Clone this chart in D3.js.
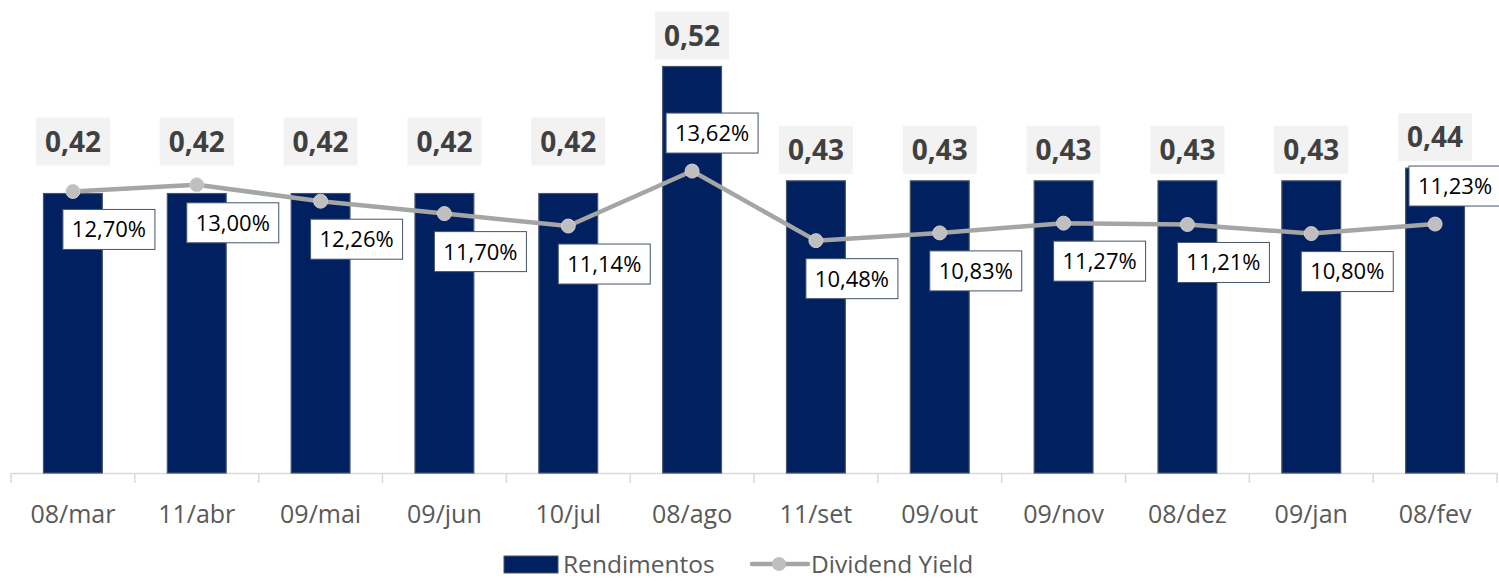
<!DOCTYPE html>
<html>
<head>
<meta charset="utf-8">
<script src="https://d3js.org/d3.v7.min.js"></script>
<style>
  * { margin: 0; padding: 0; }
  body { background: #fff; width: 1499px; height: 581px; overflow: hidden; }
  svg { display: block; font-family: 'Open Sans', 'Noto Sans', sans-serif; }
</style>
</head>
<body>
<div id="chart"></div>
<script>
// dados
var datas = ["08/mar", "11/abr", "09/mai", "09/jun", "10/jul", "08/ago", "11/set", "09/out", "09/nov", "08/dez", "09/jan", "08/fev"];
var rendimentos = [0.42, 0.42, 0.42, 0.42, 0.42, 0.52, 0.43, 0.43, 0.43, 0.43, 0.43, 0.44];
var dividendYield = [12.70, 13.00, 12.26, 11.70, 11.14, 13.62, 10.48, 10.83, 11.27, 11.21, 10.80, 11.23];
var series = ["Rendimentos", "Dividend Yield"];

const w = 1499;
const h = 581;
const padL = 11, padR = 1497, base = 473, plotTop = 3;

const fmt = (v, d) => v.toFixed(d).replace(".", ",");

const svg = d3.select("#chart").append("svg")
  .attr("width", w)
  .attr("height", h);

const x = d3.scaleBand()
  .domain(datas)
  .range([padL, padR])
  .padding(0);

const y = d3.scaleLinear()
  .domain([0.2, 0.57])
  .range([base, plotTop]);

const y2 = d3.scaleLinear()
  .domain([0, 21.2])
  .range([base, plotTop]);

const barW = x.bandwidth() * 0.475;
const cx = d => x(d) + x.bandwidth() / 2;

// eixo x
const xAxis = d3.axisBottom(x).tickSize(0).tickPadding(32);
const gx = svg.append("g")
  .attr("transform", "translate(0," + base + ")")
  .call(xAxis);
gx.select(".domain").attr("stroke", "#d9d9d9").attr("stroke-width", 1.5);
gx.selectAll("text")
  .attr("fill", "#595959")
  .style("font-size", "25px")
  .style("font-family", "'Open Sans', sans-serif");

// tracinhos entre categorias
svg.append("g").selectAll("line")
  .data(datas.concat(["__end"]))
  .enter().append("line")
  .attr("x1", (d, i) => padL + i * x.step())
  .attr("x2", (d, i) => padL + i * x.step())
  .attr("y1", base)
  .attr("y2", base + 10)
  .attr("stroke", "#d9d9d9")
  .attr("stroke-width", 1.5);

// barras
svg.append("g").selectAll("rect")
  .data(rendimentos)
  .enter().append("rect")
  .attr("x", (d, i) => cx(datas[i]) - barW / 2)
  .attr("y", d => y(d))
  .attr("width", barW)
  .attr("height", d => base - y(d))
  .attr("fill", "#002060")
  .attr("stroke", "#44546a")
  .attr("stroke-width", 1.2);

// rotulos das barras (sobe quando a linha passa perto do topo)
const barLbl = svg.append("g").selectAll("g")
  .data(rendimentos)
  .enter().append("g")
  .attr("transform", (d, i) => {
    const topY = y(d);
    const near = Math.abs(y2(dividendYield[i]) - topY) < 40;
    const bottom = near ? topY - 28 : topY - 7;
    return "translate(" + cx(datas[i]) + "," + (bottom - 24) + ")";
  });
barLbl.append("rect")
  .attr("x", -37).attr("y", -24)
  .attr("width", 74).attr("height", 48)
  .attr("fill", "#f2f2f2");
barLbl.append("text")
  .attr("text-anchor", "middle")
  .attr("dy", "0.36em")
  .attr("fill", "#404040")
  .style("font-size", "28px")
  .style("font-weight", "bold")
  .text(d => fmt(d, 2));

// linha
const line = d3.line()
  .x((d, i) => cx(datas[i]))
  .y(d => y2(d));

svg.append("path")
  .datum(dividendYield)
  .attr("d", line)
  .attr("fill", "none")
  .attr("stroke", "#a5a5a5")
  .attr("stroke-width", 4.5)
  .attr("stroke-linejoin", "round");

svg.append("g").selectAll("circle")
  .data(dividendYield)
  .enter().append("circle")
  .attr("cx", (d, i) => cx(datas[i]))
  .attr("cy", d => y2(d))
  .attr("r", 7)
  .attr("fill", "#bfbfbf")
  .attr("stroke", "#d0d0d0")
  .attr("stroke-width", 1);

// rotulos da linha
const maxDY = d3.max(dividendYield);
const dyLbl = svg.append("g").selectAll("g")
  .data(dividendYield)
  .enter().append("g")
  .attr("transform", (d, i) => {
    const above = d === maxDY || i === dividendYield.length - 1;
    let lx = cx(datas[i]) + (above ? 20 : 36);
    lx = Math.min(lx, w - 44);
    const ly = y2(d) + (above ? -38 : 38);
    return "translate(" + lx + "," + ly + ")";
  });
dyLbl.append("rect")
  .attr("x", -46).attr("y", -20)
  .attr("width", 92).attr("height", 40)
  .attr("fill", "#fff")
  .attr("stroke", "#44546a")
  .attr("stroke-width", 1);
dyLbl.append("text")
  .attr("text-anchor", "middle")
  .attr("dy", "0.36em")
  .attr("fill", "#000")
  .style("font-size", "22px")
  .text(d => fmt(d, 2) + "%");

// legenda
const leg = svg.append("g").attr("transform", "translate(0,564)");
leg.append("rect")
  .attr("x", 504).attr("y", -8)
  .attr("width", 54).attr("height", 17)
  .attr("fill", "#002060")
  .attr("stroke", "#44546a");
leg.append("text")
  .attr("x", 563).attr("dy", "0.36em")
  .attr("fill", "#595959")
  .style("font-size", "24.5px")
  .text(series[0]);
leg.append("line")
  .attr("x1", 752).attr("x2", 808)
  .attr("y1", 0).attr("y2", 0)
  .attr("stroke", "#a5a5a5")
  .attr("stroke-width", 4.5)
  .attr("stroke-linecap", "round");
leg.append("circle")
  .attr("cx", 779).attr("cy", 0).attr("r", 7)
  .attr("fill", "#bfbfbf");
leg.append("text")
  .attr("x", 811).attr("dy", "0.36em")
  .attr("fill", "#595959")
  .style("font-size", "24.5px")
  .text(series[1]);
</script>
</body>
</html>
